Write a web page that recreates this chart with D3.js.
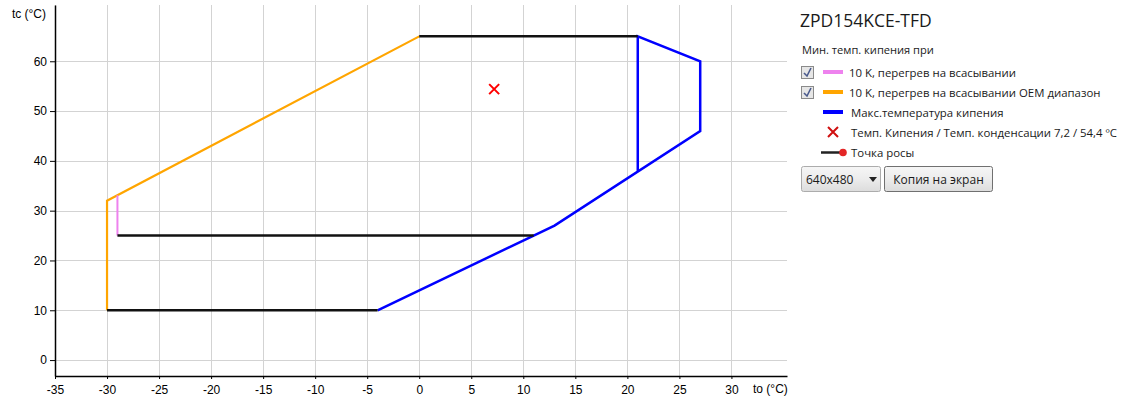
<!DOCTYPE html>
<html>
<head>
<meta charset="utf-8">
<script src="https://cdn.jsdelivr.net/npm/d3@7"></script>
<style>
  body { margin: 0; background: #fff; }
  svg { display: block; }
  .axis text { font-family: "Liberation Sans", Arial, sans-serif; font-size: 12px; fill: #000; }
  .legend text { font-family: "Segoe UI", "Open Sans", "Noto Sans", sans-serif; fill: #1a1a1a; }
</style>
</head>
<body>
<script>
// envelope data (to, tc in °C)
var xTicks = [-35, -30, -25, -20, -15, -10, -5, 0, 5, 10, 15, 20, 25, 30];
var yTicks = [0, 10, 20, 30, 40, 50, 60];

var oemLine = [[0, 65], [-30, 32], [-30, 10]];          // orange
var superheatLine = [[-29, 33.1], [-29, 25]];           // pink
var maxEvapLine = [[-4, 10], [11, 25], [13, 27], [27, 46], [27, 60], [21, 65], [21, 38]]; // blue
var dewTop = [[0, 65], [21, 65]];
var dewMid = [[-29, 25], [11, 25]];
var dewBottom = [[-30, 10], [-4, 10]];
var opPoint = [7.2, 54.4];

var legendTitle = "ZPD154KCE-TFD";
var legendSub = "Мин. темп. кипения при";
var legendItems = ["10 K, перегрев на всасывании", "10 K, перегрев на всасывании OEM диапазон",
                   "Макс.температура кипения", "Темп. Кипения / Темп. конденсации 7,2 / 54,4  ºC", "Точка росы"];

var W = 1140, H = 404;
var plot = {left: 55, right: 787, top: 5, bottom: 376};

var svg = d3.select("body").append("svg")
    .attr("width", W)
    .attr("height", H);

//Define Scales
var xScale = d3.scaleLinear().domain([-35, 35.34]).range([plot.left, plot.right]);
var yScale = d3.scaleLinear().domain([-3.2, 71.3]).range([plot.bottom, plot.top]);

// grid
svg.append("g").selectAll("line")
    .data(xTicks)
    .enter().append("line")
    .attr("x1", function(d) { return Math.round(xScale(d)) + 0.5; })
    .attr("x2", function(d) { return Math.round(xScale(d)) + 0.5; })
    .attr("y1", plot.top).attr("y2", plot.bottom)
    .attr("stroke", "#d3d3d3");

svg.append("g").selectAll("line")
    .data(yTicks)
    .enter().append("line")
    .attr("y1", function(d) { return Math.round(yScale(d)) + 0.5; })
    .attr("y2", function(d) { return Math.round(yScale(d)) + 0.5; })
    .attr("x1", plot.left).attr("x2", plot.right)
    .attr("stroke", "#d3d3d3");

//Define Axis
var xAxis = d3.axisBottom(xScale).tickValues(xTicks).tickSize(3).tickPadding(6).tickSizeOuter(0);
var yAxis = d3.axisLeft(yScale).tickValues(yTicks).tickSize(5).tickPadding(3).tickSizeOuter(0);

var gX = svg.append("g")
    .attr("class", "axis")
    .attr("transform", "translate(0," + plot.bottom + ")")
    .call(xAxis);
var gY = svg.append("g")
    .attr("class", "axis")
    .attr("transform", "translate(" + plot.left + ",0)")
    .call(yAxis);

gX.select(".domain").attr("stroke", "#000").attr("stroke-width", 1.5);
gY.select(".domain").attr("stroke", "#000").attr("stroke-width", 1.5);
gX.selectAll("text").text(function(d) { return d; });

svg.append("text")
    .attr("x", 753).attr("y", 393)
    .style("font-family", "Liberation Sans, Arial, sans-serif")
    .style("font-size", "12px")
    .text("to (°C)");

svg.append("text")
    .attr("x", 46).attr("y", 18)
    .style("text-anchor", "end")
    .style("font-family", "Liberation Sans, Arial, sans-serif")
    .style("font-size", "12px")
    .text("tc (°C)");

// lines
var line = d3.line()
    .x(function(d) { return xScale(d[0]); })
    .y(function(d) { return yScale(d[1]); });

function drawLine(data, color, w) {
    svg.append("path")
        .datum(data)
        .attr("d", line)
        .attr("fill", "none")
        .attr("stroke", color)
        .attr("stroke-width", w)
        .attr("stroke-linejoin", "miter");
}

drawLine(maxEvapLine, "#0000ff", 2.5);
drawLine(oemLine, "#ffa500", 2.2);
drawLine(superheatLine, "#ee82ee", 2);
drawLine(dewTop, "#111", 2.5);
drawLine(dewMid, "#111", 2.5);
drawLine(dewBottom, "#111", 2.5);

// operating point
var px = xScale(opPoint[0]), py = yScale(opPoint[1]);
svg.append("path")
    .attr("d", "M" + (px - 5) + "," + (py - 5) + "L" + (px + 5) + "," + (py + 5) +
               "M" + (px + 5) + "," + (py - 5) + "L" + (px - 5) + "," + (py + 5))
    .attr("stroke", "#ff0000")
    .attr("stroke-width", 2);

// legend
var lg = svg.append("g").attr("class", "legend");

lg.append("text")
    .attr("x", 800).attr("y", 27)
    .style("font-size", "17.5px")
    .attr("fill", "#000")
    .text(legendTitle);

lg.append("text")
    .attr("x", 802).attr("y", 54)
    .style("font-size", "11.1px")
    .text(legendSub);

var rowY = [72, 92, 112, 132, 152];
var swatchColors = ["#ee82ee", "#ffa500", "#0000ff"];

// checkboxes
[0, 1].forEach(function(i) {
    var cy = rowY[i];
    lg.append("rect")
        .attr("x", 801.5).attr("y", cy - 5.5)
        .attr("width", 12).attr("height", 12)
        .attr("fill", "#e6e6e6")
        .attr("stroke", "#8a8a8a");
    lg.append("path")
        .attr("d", "M804," + (cy + 1) + "L807," + (cy + 4) + "L811," + (cy - 4))
        .attr("fill", "none")
        .attr("stroke", "#4a5a8c")
        .attr("stroke-width", 1.6);
});

// colour swatches
swatchColors.forEach(function(c, i) {
    lg.append("rect")
        .attr("x", 823).attr("y", rowY[i] - 2)
        .attr("width", 20).attr("height", 4)
        .attr("fill", c);
});

// red x
lg.append("path")
    .attr("d", "M828," + (rowY[3] - 5) + "L838," + (rowY[3] + 5) + "M838," + (rowY[3] - 5) + "L828," + (rowY[3] + 5))
    .attr("stroke", "#d01010")
    .attr("stroke-width", 2);

// dew point symbol
lg.append("line")
    .attr("x1", 821).attr("x2", 842)
    .attr("y1", rowY[4] + 0.5).attr("y2", rowY[4] + 0.5)
    .attr("stroke", "#222").attr("stroke-width", 2.5);
lg.append("circle")
    .attr("cx", 843).attr("cy", rowY[4] + 0.5).attr("r", 3.8)
    .attr("fill", "#e32626");

var textX = [849, 849, 851, 851, 851];
legendItems.forEach(function(t, i) {
    lg.append("text")
        .attr("x", textX[i]).attr("y", rowY[i] + 4.5)
        .style("font-size", "11.4px")
        .text(t);
});

// select + button
var grad = svg.append("defs").append("linearGradient")
    .attr("id", "btn").attr("x1", 0).attr("y1", 0).attr("x2", 0).attr("y2", 1);
grad.append("stop").attr("offset", "0%").attr("stop-color", "#f6f6f6");
grad.append("stop").attr("offset", "50%").attr("stop-color", "#ececec");
grad.append("stop").attr("offset", "100%").attr("stop-color", "#dcdcdc");

lg.append("rect")
    .attr("x", 801.5).attr("y", 166.5)
    .attr("width", 79).attr("height", 25).attr("rx", 2)
    .attr("fill", "url(#btn)").attr("stroke", "#acacac");
lg.append("text")
    .attr("x", 806).attr("y", 184)
    .style("font-size", "12px")
    .attr("fill", "#000")
    .text("640x480");
lg.append("path")
    .attr("d", "M869,177L877,177L873,182Z")
    .attr("fill", "#222");

lg.append("rect")
    .attr("x", 884.5).attr("y", 166.5)
    .attr("width", 108).attr("height", 25).attr("rx", 2)
    .attr("fill", "url(#btn)").attr("stroke", "#707070");
lg.append("text")
    .attr("x", 938.5).attr("y", 184)
    .style("font-size", "12px")
    .style("text-anchor", "middle")
    .attr("fill", "#000")
    .text("Копия на экран");
</script>
</body>
</html>
